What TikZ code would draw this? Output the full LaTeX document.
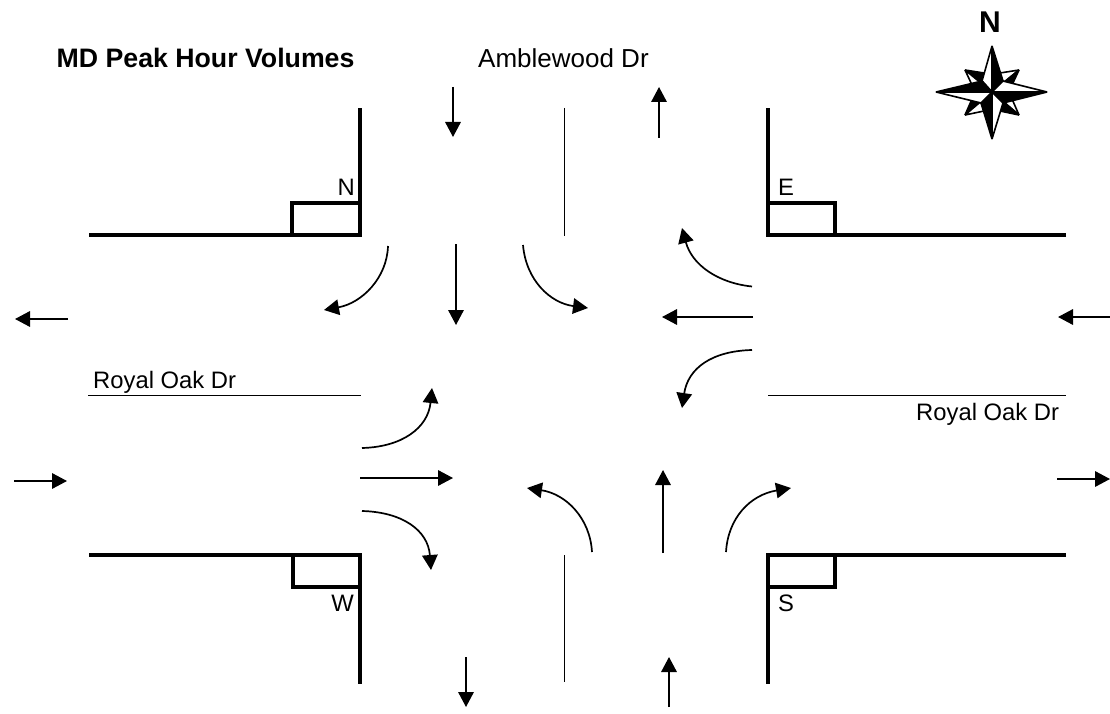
\documentclass[tikz,border=0pt]{standalone}
\usepackage{fontspec}
\setmainfont{Liberation Sans}
\usetikzlibrary{arrows.meta}
\tikzset{
  x=1pt,y=-1pt,
  curb/.style={line width=3.2pt,line cap=butt,line join=miter},
  thinline/.style={line width=1.2pt},
  flow/.style={line width=1.7pt,-{Triangle[length=15pt,width=15.5pt]}},
  lab/.style={font=\fontsize{23.8}{26}\selectfont,text=black,inner sep=0pt},
  blab/.style={font=\bfseries\fontsize{26.7}{28}\selectfont,text=black,inner sep=0pt},
  rose/.style={draw=black,line width=1.6pt,line join=miter,miter limit=3},
}
\begin{document}
\begin{tikzpicture}
\useasboundingbox (0,0) rectangle (1110,714);
\fill[white] (0,0) rectangle (1110,714);
% curbs
\draw[curb] (89,235) -- (360,235) -- (360,108);
\draw[curb] (292,235) -- (292,203) -- (360,203);
\draw[curb] (1066,235) -- (768,235) -- (768,108);
\draw[curb] (835,235) -- (835,203) -- (768,203);
\draw[curb] (89,555) -- (360,555) -- (360,684);
\draw[curb] (293,555) -- (293,587) -- (360,587);
\draw[curb] (1066,555) -- (768,555) -- (768,684);
\draw[curb] (835,555) -- (835,587) -- (768,587);
% centre lines
\draw[thinline] (564.5,108) -- (564.5,236);
\draw[thinline] (564.5,555) -- (564.5,682);
\draw[thinline] (88,395.5) -- (361,395.5);
\draw[thinline] (768,395.5) -- (1066,395.5);
% approach arrows
\draw[flow] (453,87) -- (453,137);
\draw[flow] (659,138) -- (659,87);
\draw[flow] (68,319) -- (15,319);
\draw[flow] (1110,317) -- (1058,317);
\draw[flow] (14,481) -- (67,481);
\draw[flow] (1057,479) -- (1110,479);
\draw[flow] (466,657) -- (466,707);
\draw[flow] (669,707) -- (669,657);
% north
\draw[flow] (388,246) .. controls (387,278) and (362,303) .. (324,310);
\draw[flow] (456,244) -- (456,325);
\draw[flow] (523,245) .. controls (526,280) and (550,303) .. (588,308);
% east
\draw[flow] (752,286.5) .. controls (718,283) and (692,265) .. (682,228);
\draw[flow] (753,317) -- (662,317);
\draw[flow] (752,350) .. controls (712,351) and (688,368) .. (682,408);
% west
\draw[flow] (362,448) .. controls (402,447) and (428,428) .. (432,388);
\draw[flow] (360,478) -- (453,478);
\draw[flow] (362,511) .. controls (402,512) and (428,530) .. (431,570);
% south
\draw[flow] (592,552) .. controls (590,518) and (566,494) .. (527,488);
\draw[flow] (663,553) -- (663,470);
\draw[flow] (726,552) .. controls (728,518) and (750,495) .. (791,488);
% texts
\node[blab,anchor=base west] (title) at (56.5,68) {MD Peak Hour Volumes};
\node[lab,font=\fontsize{26}{28}\selectfont,anchor=base west] (amb) at (478,68) {Amblewood Dr};
\node[lab,anchor=base west] (rw) at (93,388) {Royal Oak Dr};
\node[lab,anchor=base west] (re) at (916,420) {Royal Oak Dr};
\node[lab,anchor=base east] (cn) at (355,196) {N};
\node[lab,anchor=base west] (ce) at (778,196) {E};
\node[lab,anchor=base east] (cw) at (354,611) {W};
\node[lab,anchor=base west] (cs) at (778,611) {S};
\node[font=\bfseries\fontsize{30}{32}\selectfont,anchor=base,inner sep=0pt] (north) at (990,33) {N};
% compass rose
\begin{scope}[shift={(992,92)}]
 % diagonal points
 \filldraw[rose,fill=black] (0,0) -- (-27,-22) -- (-8,-19) -- cycle;
 \filldraw[rose,fill=white] (0,0) -- (-27,-22) -- (-20,-7) -- cycle;
 \filldraw[rose,fill=white] (0,0) -- (27,-22) -- (8,-19) -- cycle;
 \filldraw[rose,fill=black] (0,0) -- (27,-22) -- (20,-7) -- cycle;
 \filldraw[rose,fill=black] (0,0) -- (-27,23) -- (-20,7) -- cycle;
 \filldraw[rose,fill=white] (0,0) -- (-27,23) -- (-8,19) -- cycle;
 \filldraw[rose,fill=white] (0,0) -- (27,23) -- (20,7) -- cycle;
 \filldraw[rose,fill=black] (0,0) -- (27,23) -- (8,19) -- cycle;
 % main points
 \filldraw[rose,fill=white] (0,0) -- (0,-46) -- (-10,-11) -- cycle;
 \filldraw[rose,fill=black] (0,0) -- (0,-46) -- (11,-11) -- cycle;
 \filldraw[rose,fill=white] (0,0) -- (55,0) -- (11,-11) -- cycle;
 \filldraw[rose,fill=black] (0,0) -- (55,0) -- (11,11) -- cycle;
 \filldraw[rose,fill=white] (0,0) -- (0,47) -- (11,11) -- cycle;
 \filldraw[rose,fill=black] (0,0) -- (0,47) -- (-11,11) -- cycle;
 \filldraw[rose,fill=white] (0,0) -- (-56,0) -- (-11,11) -- cycle;
 \filldraw[rose,fill=black] (0,0) -- (-56,0) -- (-10,-11) -- cycle;
\end{scope}
\end{tikzpicture}
\end{document}
